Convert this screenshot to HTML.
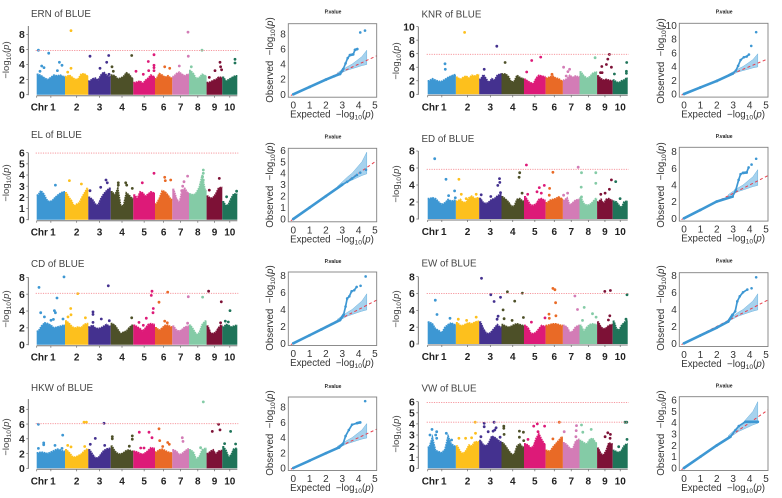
<!DOCTYPE html>
<html lang="en">
<head>
<meta charset="utf-8">
<title>Manhattan and QQ plots of BLUE traits</title>
<style>
html,body{margin:0;padding:0;background:#fff;}
svg{display:block;font-family:"Liberation Sans",sans-serif;filter:blur(0.3px);}
.pt{font-size:9.8px;fill:#444;}
</style>
</head>
<body>
<svg id="figure" xmlns="http://www.w3.org/2000/svg" width="782" height="498" viewBox="0 0 782 498">
<rect width="782" height="498" fill="#fff"/>
<text class="pt" x="31" y="17">ERN of BLUE</text>
<text class="pt" x="421.5" y="17.5">KNR of BLUE</text>
<text class="pt" x="31" y="138">EL of BLUE</text>
<text class="pt" x="421.5" y="142">ED of BLUE</text>
<text class="pt" x="31" y="267">CD of BLUE</text>
<text class="pt" x="421.5" y="266.5">EW of BLUE</text>
<text class="pt" x="31" y="391">HKW of BLUE</text>
<text class="pt" x="421.5" y="391.5">VW of BLUE</text>
</svg>
<script>
const chrNames = ['1','2','3','4','5','6','7','8','9','10'];
const chrSizes = [85,70,67,68,65,52,50,53,47,45];
const chrColors = ['#3d97d3','#fdc01d','#44318f','#4d5028','#dd1a78','#e96a26','#d37cb6','#84cba6','#7d1136','#1f7459'];

const ernSky = [[2.7,2.5,2.2,2.0,2.3,2.6,2.5,2.6,2.4],[2.4,2.6,2.3,2.0,2.1,2.7,2.8,2.5],[1.8,2.1,2.2,1.9,2.6,3.0,2.6,2.4],[2.6,2.5,2.1,2.2,2.4,2.9,2.7,2.2],[1.6,1.7,1.8,1.5,1.9,2.2,2.6,2.4],[2.1,2.8,2.6,2.3,2.5,2.2],[2.4,2.8,3.0,2.7,2.5,2.7],[3.2,2.8,2.1,2.3,2.7,2.5],[1.6,1.7,1.9,2.0,2.3,2.3],[2.3,1.8,2.0,2.2,2.4,2.5]];
const ernHitPos = [5,36,103,15,22,10,68,76,62,103,93,160,216,210,190,217,226,230,285,298,320,336,335,352,352,352,352,384,399,428,454,455,464,496,518,535,550,552,555,595,595];
const ernHitVal = [5.9,5.5,8.5,3.8,3.6,3.1,4.3,3.9,3.2,3.5,3.0,5.1,5.2,4.3,3.5,2.7,3.7,3.1,5.2,3.1,2.7,3.2,4.4,5.3,3.9,3.6,3.2,3.7,3.5,3.8,8.3,5.1,3.7,5.9,2.3,3.2,4.3,3.7,3.3,4.7,4.2];
const ernQQX = [0,1,2,2.5,2.86,3.06,3.2,3.33,3.47,3.67,3.78,3.92,4.1,4.39];
const ernQQY = [0,0.97,1.95,2.4,2.7,3.35,4.1,4.8,5.2,5.3,5.9,6.0,8.2,8.45];

const knrSky = [[2.0,2.3,2.1,1.9,1.9,2.2,2.5,2.7,2.9],[2.5,2.2,2.5,2.7,2.4,2.8,2.7,2.9],[2.2,2.9,2.3,1.7,2.3,2.1,2.8,3.0],[3.0,3.0,2.6,1.8,1.9,2.8,2.5,2.3],[2.2,1.9,1.7,1.6,2.4,2.8,2.7,2.6],[2.4,2.6,2.7,2.4,2.3,2.0],[2.1,2.3,2.8,2.5,2.7,2.6],[3.3,2.7,2.4,2.6,3.1,3.3],[2.7,2.3,2.1,2.2,2.1,2.0],[2.1,1.8,1.7,2.0,2.1,2.4]];
const knrHitPos = [111,208,233,52,53,170,298,313,340,374,409,422,427,417,504,524,542,547,538,553,520,525,599,598,598,562];
const knrHitVal = [9.15,7.1,4.7,4.5,3.7,3.7,3.3,5.0,5.5,2.95,4.0,3.35,3.7,2.7,5.4,4.1,5.2,5.9,4.4,4.0,3.2,3.2,4.7,3.4,3.1,3.0];
const knrQQX = [0,1,2,2.96,3.16,3.3,3.45,3.65,3.82,3.96,4.1,4.4];
const knrQQY = [0,0.95,1.9,2.95,3.4,4.1,4.95,5.35,5.45,5.75,7.0,9.0];

const elSky = [[2.2,2.6,2.3,1.8,1.6,1.7,2.0,2.2,2.4,2.5],[2.4,2.0,1.7,1.2,1.4,1.5,2.0,2.4,2.8],[2.0,1.8,1.4,1.3,1.9,2.3,2.6,2.8],[2.5,2.2,2.8,1.3,1.2,2.4,2.2,1.9],[2.2,1.9,2.5,2.4,2.1,2.3,2.5,2.4],[1.4,1.9,2.6,2.5,2.2,1.8],[2.7,1.9,1.5,2.6,2.8,2.4],[2.3,2.2,2.4,2.9,4.0,2.6],[2.1,1.9,2.0,2.3,2.8,2.9],[1.6,1.2,1.4,1.9,2.3,2.3]];
const elHitPos = [56,98,134,160,192,208,212,245,245,267,270,287,317,352,384,386,402,453,438,435,442,500,500,498,500,548,518,600,570];
const elHitVal = [3.1,3.5,3.2,2.6,2.9,3.55,3.3,3.3,3.1,3.3,3.1,2.8,3.3,4.15,3.8,3.5,3.55,3.9,3.0,2.6,3.4,4.45,4.15,3.85,3.55,3.7,2.65,2.55,2.05];
const elQQX = [0,1,2,3,3.3,3.6,3.9,4.1,4.45];
const elQQY = [0,1,2,3,3.25,3.55,3.85,4.05,4.3];

const edSky = [[2.4,2.5,2.4,2.0,1.7,1.9,2.3,2.1,2.2],[2.1,2.3,1.9,2.0,2.5,2.7,2.4,2.5],[2.4,1.9,1.8,2.0,2.3,2.4,2.7,2.9],[2.6,2.3,2.0,1.5,1.5,2.3,2.4,2.1],[2.6,2.1,1.6,1.6,1.8,2.3,2.4,2.2],[1.9,2.2,2.3,2.4,2.6,2.4],[2.2,2.5,1.6,1.9,2.2,2.3],[2.5,1.8,1.6,1.7,2.0,2.4],[2.0,2.3,1.8,2.3,2.4,2.2],[2.1,2.0,1.6,1.3,2.0,2.1]];
const edHitPos = [21,55,63,81,83,94,101,116,146,161,216,217,211,190,219,277,275,284,297,301,336,351,329,342,367,377,366,409,421,453,463,462,463,506,506,521,534,553,566,547,579];
const edHitVal = [7.1,4.67,2.75,3.3,2.5,4.67,2.9,2.4,2.9,2.85,4.75,4.3,3.95,2.65,3.1,5.45,4.9,3.05,6.35,2.9,3.7,3.95,3.2,3.05,3.6,5.5,2.8,2.8,3.05,6.1,5.45,3.75,2.6,5.45,4.2,2.9,3.05,4.6,4.4,3.5,2.4];
const edQQX = [0,1,1.98,2.96,3.16,3.33,3.45,3.6,3.82,3.94,4.12,4.4];
const edQQY = [0,1,2.0,2.6,3.4,4.6,5.3,5.45,5.5,6.1,6.45,7.15];

const cdSky = [[1.6,2.2,2.6,2.5,2.3,2.0,2.1,2.2,2.3],[2.8,2.5,2.1,2.0,2.1,2.0,2.4,2.5],[2.1,2.3,2.0,1.9,2.0,2.2,2.4,2.2],[2.5,2.3,1.8,1.3,1.5,1.6,2.0,2.3],[2.3,2.1,1.9,1.6,2.0,2.4,2.5,2.4],[2.0,1.7,2.0,2.3,2.3,2.1],[2.2,1.7,1.6,1.8,2.1,2.2],[2.3,1.8,1.2,1.4,2.4,2.8],[2.2,1.4,1.3,1.5,2.0,2.3],[2.1,2.4,2.3,2.1,2.2,2.3]];
const cdHitPos = [7,82,61,12,23,53,56,50,43,79,102,103,94,123,146,169,169,194,215,169,218,285,329,307,320,346,344,350,349,393,367,384,392,455,453,498,516,554,552,580,566,575];
const cdHitVal = [6.8,8.05,5.55,3.8,3.3,4.05,3.8,3.0,2.9,3.05,4.3,3.55,3.3,6.07,3.2,3.9,3.6,3.05,7.0,2.65,2.85,3.2,3.15,2.65,2.3,6.35,5.85,4.3,3.8,6.25,5.05,2.8,2.6,5.7,2.55,5.65,6.35,5.1,2.6,4.05,2.8,2.7];
const cdQQX = [0,1,1.73,2.86,3.08,3.2,3.3,3.43,3.57,3.73,3.88,4.12,4.43];
const cdQQY = [0,0.95,1.65,2.75,3.37,4.35,5.3,5.55,6.15,6.27,6.67,6.8,7.9];

const ewSky = [[2.6,2.4,1.8,1.6,1.3,2.0,2.3,2.5,2.3],[2.5,2.2,2.2,2.4,2.5,2.4,2.6,2.7],[2.6,1.8,1.3,1.2,1.5,1.9,2.3,2.0],[2.3,2.1,2.0,2.1,2.3,2.4,2.3,2.2],[2.2,1.9,1.3,1.2,1.4,1.8,2.2,2.1],[2.2,2.3,2.4,2.4,2.3,2.2],[2.2,2.0,1.4,1.5,2.0,2.2],[2.2,1.5,2.0,2.3,2.4,2.3],[2.6,2.0,1.8,1.9,2.2,2.3],[2.7,1.8,1.6,2.2,2.5,2.8]];
const ewHitPos = [23,28,67,117,146,92,162,190,200,219,212,209,240,227,230,262,285,254,288,312,353,377,383,385,386,365,366,443,451,471,466,496,507,533,550,548,544,600,597];
const ewHitVal = [5.2,3.5,3.05,2.8,3.2,2.95,7.8,5.85,5.05,5.55,3.3,2.95,6.2,4.05,3.0,5.1,6.05,2.8,3.15,2.6,3.1,6.6,6.45,4.9,3.35,3.55,3.05,5.7,4.1,4.35,2.8,3.6,3.2,6.25,6.35,3.35,2.85,5.85,2.95];
const ewQQX = [0,1,2,2.7,2.96,3.12,3.25,3.4,3.6,3.86,4.12,4.4];
const ewQQY = [0,0.93,1.85,2.58,3.37,3.77,4.96,5.55,6.03,6.35,6.5,7.8];

const hkwSky = [[2.1,2.2,2.1,2.0,2.2,2.4,2.6,2.5,2.3],[2.5,2.1,1.6,1.5,1.7,1.9,2.3,2.6],[2.5,1.9,1.4,1.4,1.9,2.4,2.6,2.7],[3.0,2.3,2.0,1.9,2.1,2.4,2.5,2.3],[2.3,2.2,2.0,1.9,2.1,2.4,2.8,2.7],[2.2,2.5,2.6,2.4,2.2,2.1],[2.5,2.3,1.8,2.0,2.3,2.6],[2.5,2.2,1.2,1.6,2.5,2.7],[2.0,2.3,2.5,1.9,2.3,2.4],[2.9,2.4,1.5,1.8,2.6,2.7]];
const hkwHitPos = [5,5,21,21,78,55,76,93,103,142,149,144,176,161,202,204,227,227,287,287,278,308,337,346,312,322,367,369,393,378,398,437,439,500,492,527,546,550,582,564,597];
const hkwHitVal = [5.97,2.7,3.45,3.2,4.5,3.1,2.7,3.1,2.9,6.25,6.25,2.95,4.05,3.25,6.1,3.1,4.3,4.0,4.4,3.95,3.0,4.9,4.9,4.15,2.75,2.75,5.35,3.75,3.5,2.95,3.25,4.15,3.65,9.0,2.8,5.0,5.97,5.2,5.0,3.35,3.3];
const hkwQQX = [0,1,2,2.8,3.05,3.2,3.4,3.6,3.9,4.1,4.4];
const hkwQQY = [0,0.97,1.95,2.7,3.2,4.2,5.0,5.7,5.9,6.0,8.8];

const vwSky = [[1.9,2.8,1.6,1.5,1.4,1.7,2.9,2.2,2.0],[2.0,1.5,1.3,1.6,2.1,2.0,2.4,2.4],[2.5,2.1,2.0,2.3,2.9,2.8,2.6,2.4],[2.3,2.0,1.6,1.3,1.2,2.0,2.2,1.9],[2.2,2.1,1.8,2.0,2.7,3.1,2.6,2.2],[1.6,1.5,1.9,2.2,2.5,2.8],[2.3,2.1,1.8,1.7,2.4,2.6],[2.5,2.3,2.2,2.6,2.7,2.3],[1.8,1.3,1.2,1.6,2.3,2.2],[1.6,1.5,1.4,1.6,2.0,2.2]];
const vwHitPos = [13,7,27,24,27,56,72,143,144,132,114,94,170,170,200,206,202,197,182,160,218,229,229,230,276,288,276,289,319,330,352,332,302,396,377,411,448,447,446,463,492,467,542,550,549,534,594,599,600,575];
const vwHitVal = [3.5,3.0,3.3,3.0,2.7,3.15,2.55,4.15,3.15,2.75,2.7,2.7,4.05,3.75,4.15,3.65,3.45,3.35,3.3,2.85,2.8,3.8,3.6,3.05,3.35,3.25,2.8,2.5,3.8,4.0,3.8,3.3,2.6,4.15,2.65,3.3,3.85,3.4,2.85,3.9,3.5,3.25,3.2,3.05,2.7,2.85,4.15,4.15,2.6,1.95];
const vwQQX = [0,1,2,2.83,3.14,3.34,3.75,4.05,4.5];
const vwQQY = [0,1,2,2.76,3.35,3.7,4.08,4.08,4.08];

const ciX = [2.7,3,3.3,3.6,3.9,4.2,4.5];
const ciHigh = [2.85,3.25,3.65,4.0,4.5,5.0,5.85];
const ciLow = [2.6,2.9,3.2,3.4,3.6,3.8,3.95];

const NS = 'http://www.w3.org/2000/svg';
const svg = document.getElementById('figure');
function add(parent, tag, attrs, text) {
  const el = document.createElementNS(NS, tag);
  for (const k in attrs) el.setAttribute(k, attrs[k]);
  if (text !== undefined) el.textContent = text;
  parent.appendChild(el);
  return el;
}
function logLabel(t, prefix) {
  if (prefix) add(t, 'tspan', {}, prefix);
  add(t, 'tspan', {}, '\u2212log');
  add(t, 'tspan', {dy: 2, 'font-size': '70%'}, '10');
  add(t, 'tspan', {dy: -2}, '(');
  add(t, 'tspan', {'font-style': 'italic'}, 'p');
  add(t, 'tspan', {}, ')');
}

function manhattan(o) {
  const g = add(svg, 'g', {});
  
  
  const total = chrSizes.reduce((a, b) => a + b, 0);
  const sx = v => o.x0 + v * o.w / total;
  const sy = v => o.y0 - v * o.unit;
  let start = 0;
  const mids = [];
  chrSizes.forEach((size, i) => {
    const vals = o.sky[i];
    let top = 'M' + sx(start).toFixed(1) + ' ' + sy(vals[0]).toFixed(1);
    vals.forEach((v, j) => {
      const a = start + size * (j + 0.5) / vals.length;
      top += 'L' + sx(a).toFixed(1) + ' ' + sy(v).toFixed(1);
    });
    top += 'L' + sx(start + size).toFixed(1) + ' ' + sy(vals[vals.length - 1]).toFixed(1);
    const d = 'M' + sx(start).toFixed(1) + ' ' + o.y0 + 'L' + top.slice(1) + 'L' + sx(start + size).toFixed(1) + ' ' + o.y0 + 'Z';
    const area = add(g, 'path', {d: d, fill: chrColors[i]});
    
    
    const edge = add(g, 'path', {d: top, fill: 'none', stroke: chrColors[i], 'stroke-width': 1.7, 'stroke-dasharray': '1.7 0.7'});
    
    
    mids.push(start + size / 2);
    start += size;
  });
  o.hitPos.forEach((p, i) => {
    let c = 0, acc = 0;
    while (c < 9 && p >= acc + chrSizes[c]) { acc += chrSizes[c]; c++; }
    const dot = add(g, 'circle', {cx: sx(p).toFixed(1), cy: sy(o.hitVal[i]).toFixed(1), r: 1.4, fill: chrColors[c]});
    
    
  });
  o.thresholds.forEach(th => {
    const line = add(g, 'line', {x1: o.x0 - 1, x2: o.x0 + o.w + 1, y1: sy(th), y2: sy(th), stroke: '#f58a92', 'stroke-width': 0.9, 'stroke-dasharray': '1.2 1.2'});
    
    
  });
  const yAxis = add(g, 'line', {x1: o.axisX, x2: o.axisX, y1: o.top, y2: o.y0 + 0.5, stroke: '#666', 'stroke-width': 0.9});
  
  
  o.yTicks.forEach(v => {
    add(g, 'line', {x1: o.axisX - 2, x2: o.axisX, y1: sy(v), y2: sy(v), stroke: '#666', 'stroke-width': 0.7});
    const lab = add(g, 'text', {x: o.axisX - 3.5, y: sy(v) + 3.7, 'text-anchor': 'end', 'font-size': 10.4, 'font-weight': 'bold', fill: '#222'}, String(v));
    
    
  });
  const xAxis = add(g, 'line', {x1: o.x0, x2: o.x0 + o.w, y1: o.y0 + 1, y2: o.y0 + 1, stroke: '#777', 'stroke-width': 1});
  
  
  add(g, 'line', {x1: o.x0, x2: o.x0, y1: o.y0 + 1, y2: o.y0 + 3, stroke: '#666', 'stroke-width': 0.7});
  mids.forEach((m, i) => {
    add(g, 'line', {x1: sx(m), x2: sx(m), y1: o.y0 + 1, y2: o.y0 + 3, stroke: '#666', 'stroke-width': 0.7});
    const lab = add(g, 'text', {x: sx(m) + (i === 0 ? 2 : 0), y: o.y0 + 16, 'text-anchor': 'middle', 'font-size': 10, 'font-weight': 'bold', fill: '#222'}, chrNames[i]);
    
    
  });
  const chr = add(g, 'text', {x: o.x0 - 6, y: o.y0 + 16, 'font-size': 10, 'font-weight': 'bold', fill: '#222'}, 'Chr');
  
  
  const yt = add(g, 'text', {transform: 'translate(' + (o.axisX - 19.5) + ' ' + o.titleY + ') rotate(-90)', 'text-anchor': 'middle', 'font-size': 9.5, fill: '#444'});
  
  
  logLabel(yt);
}

function qq(o) {
  const g = add(svg, 'g', {});
  
  
  const sx = v => o.x0 + v * o.ux;
  const sy = v => o.y0 - v * o.uy;
  const band = ciX.map((x, i) => sx(x).toFixed(1) + ',' + sy(ciHigh[i]).toFixed(1))
    .concat(ciX.map((x, i) => sx(x).toFixed(1) + ',' + sy(ciLow[i]).toFixed(1)).reverse()).join(' ');
  const ci = add(g, 'polygon', {points: band, fill: '#a6d2ee', stroke: '#6fb3de', 'stroke-width': 0.5});
  
  
  const frameR = o.left + o.boxW, frameB = o.top + o.boxH;
  const limit = (frameR - o.x0) / o.ux;
  const ref = add(g, 'line', {x1: sx(-0.15), y1: sy(-0.15), x2: sx(limit), y2: sy(limit), stroke: '#e8404d', 'stroke-width': 1, 'stroke-dasharray': '3 2.5'});
  
  
  o.ex.forEach((x, i) => {
    if (i > 0) {
      const px = o.ex[i - 1], py = o.ob[i - 1];
      const body = x <= 3.1;
      const tail = x > 3.1 && x < 4 && o.ob[i] - py < 1.2;
      const flat = Math.abs(o.ob[i] - py) < 0.1;
      if (body || tail || flat) {
        const seg = add(g, 'line', {x1: sx(px), y1: sy(py), x2: sx(x), y2: sy(o.ob[i]), stroke: '#3d97d3', 'stroke-width': body || flat ? 2.6 : 1.7, 'stroke-linecap': 'round'});
        
        
      }
    }
    const pt = add(g, 'circle', {cx: sx(x), cy: sy(o.ob[i]), r: 1.3, fill: '#3d97d3'});
    
    
  });
  const frame = add(g, 'rect', {x: o.left, y: o.top, width: o.boxW, height: o.boxH, fill: 'none', stroke: '#808080', 'stroke-width': 0.9});
  
  
  o.yTicks.forEach(v => {
    const lab = add(g, 'text', {x: o.left - 2.5, y: sy(v) + 3.5, 'text-anchor': 'end', 'font-size': 10, fill: '#333'}, String(v));
    
    
  });
  [0, 1, 2, 3, 4, 5].forEach(v => {
    const lab = add(g, 'text', {x: sx(v), y: frameB + 11.5, 'text-anchor': 'middle', 'font-size': 10, fill: '#333'}, String(v));
    
    
  });
  const xt = add(g, 'text', {x: o.left + o.boxW / 2 - 0.5, y: frameB + 20.5, 'text-anchor': 'middle', 'font-size': 9.7, fill: '#333'});
  
  
  logLabel(xt, 'Expected\u00a0\u00a0');
  const yt = add(g, 'text', {transform: 'translate(' + (o.left - 15.5) + ' ' + o.titleY + ') rotate(-90)', 'text-anchor': 'middle', 'font-size': 9.7, fill: '#333'});
  
  
  logLabel(yt, 'Observed\u00a0\u00a0');
  const head = add(g, 'text', {x: o.left + o.boxW / 2 + 0.5, y: o.headY, 'text-anchor': 'middle', 'font-size': 5, 'font-weight': 'bold', fill: '#222'}, 'P.value');
  
  
}

const t8 = [0, 2, 4, 6, 8];
const t10 = [0, 2, 4, 6, 8, 10];
const t6 = [0, 1, 2, 3, 4, 5, 6];
const L = {x0: 36.7, w: 200.6, axisX: 28.3};
const R = {x0: 427.7, w: 200, axisX: 418.3};

manhattan({...L, id: 'ern', y0: 94.7, unit: 7.54, top: 26, yTicks: t8, thresholds: [5.85], titleY: 60, sky: ernSky, hitPos: ernHitPos, hitVal: ernHitVal});
manhattan({...R, id: 'knr', y0: 94.3, unit: 6.77, top: 26.7, yTicks: t10, thresholds: [5.9], titleY: 61, sky: knrSky, hitPos: knrHitPos, hitVal: knrHitVal});
manhattan({...L, id: 'el', y0: 219.7, unit: 11.17, top: 152.7, yTicks: t6, thresholds: [5.97], titleY: 183, sky: elSky, hitPos: elHitPos, hitVal: elHitVal});
manhattan({...R, id: 'ed', y0: 219, unit: 8.5, top: 151, yTicks: t8, thresholds: [5.85], titleY: 184, sky: edSky, hitPos: edHitPos, hitVal: edHitVal});
manhattan({...L, id: 'cd', y0: 344.7, unit: 8.42, top: 277.3, yTicks: t8, thresholds: [6.1], titleY: 309, sky: cdSky, hitPos: cdHitPos, hitVal: cdHitVal});
manhattan({...R, id: 'ew', y0: 344, unit: 8.42, top: 276.7, yTicks: t8, thresholds: [6.0], titleY: 309, sky: ewSky, hitPos: ewHitPos, hitVal: ewHitVal});
manhattan({...L, id: 'hkw', y0: 468.3, unit: 7.375, top: 399, yTicks: t8, thresholds: [6.05], titleY: 437, sky: hkwSky, hitPos: hkwHitPos, hitVal: hkwHitVal});
manhattan({...R, id: 'vw', y0: 468.3, unit: 11.1, top: 401.7, yTicks: t6, thresholds: [5.93, 4.15], titleY: 434, sky: vwSky, hitPos: vwHitPos, hitVal: vwHitVal});

const QL = {left: 288.3, boxW: 88.4, boxH: 73.5, x0: 293.3, ux: 16.33};
const QR = {left: 679.3, boxW: 88.7, boxH: 73.8, x0: 684, ux: 16.4};

qq({...QL, id: 'ern', top: 23.7, y0: 94.3, uy: 7.54, yTicks: t8, titleY: 60, headY: 13.5, ex: ernQQX, ob: ernQQY});
qq({...QR, id: 'knr', top: 23.3, y0: 94, uy: 6.87, yTicks: t10, titleY: 61, headY: 13.5, ex: knrQQX, ob: knrQQY});
qq({...QL, id: 'el', top: 148.3, y0: 219, uy: 11.44, yTicks: t6, titleY: 185, headY: 138.5, ex: elQQX, ob: elQQY});
qq({...QR, id: 'ed', top: 147.3, y0: 218.3, uy: 8.33, yTicks: t8, titleY: 185, headY: 138, ex: edQQX, ob: edQQY});
qq({...QL, id: 'cd', top: 272, y0: 343.3, uy: 8.46, yTicks: t8, titleY: 308, headY: 263, ex: cdQQX, ob: cdQQY});
qq({...QR, id: 'ew', top: 272.7, y0: 343.3, uy: 8.46, yTicks: t8, titleY: 308, headY: 262.5, ex: ewQQX, ob: ewQQY});
qq({...QL, id: 'hkw', top: 397, y0: 468, uy: 7.6, yTicks: t8, titleY: 433, headY: 388, ex: hkwQQX, ob: hkwQQY});
qq({...QR, id: 'vw', top: 396.7, y0: 468, uy: 11.33, yTicks: t6, titleY: 433, headY: 387.5, ex: vwQQX, ob: vwQQY});
</script>
</body>
</html>
